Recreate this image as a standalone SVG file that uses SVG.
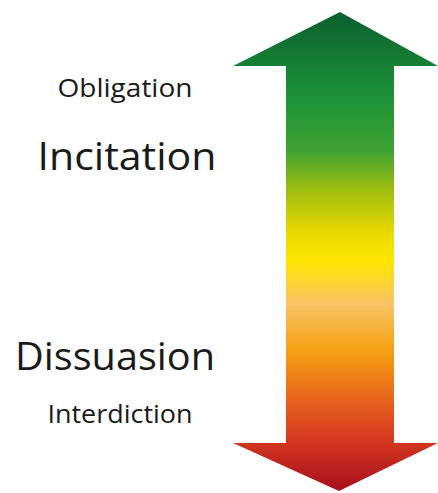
<svg xmlns="http://www.w3.org/2000/svg" width="438" height="493" viewBox="0 0 438 493">
<style>
.lbl{font-family:"Open Sans","Liberation Sans",sans-serif;fill:#1a1a1a;text-anchor:middle}
.small{font-size:25px}
.big{font-size:38px}
</style>
<defs>
<linearGradient id="g" gradientUnits="userSpaceOnUse" x1="0" y1="12" x2="0" y2="490">
<stop offset="0" stop-color="#0b5f2e"/>
<stop offset="0.18" stop-color="#1e9438"/>
<stop offset="0.29" stop-color="#3ea232"/>
<stop offset="0.37" stop-color="#9cbc10"/>
<stop offset="0.46" stop-color="#e8d800"/>
<stop offset="0.52" stop-color="#ffe600"/>
<stop offset="0.61" stop-color="#f8c466"/>
<stop offset="0.71" stop-color="#f4a010"/>
<stop offset="0.81" stop-color="#e8641c"/>
<stop offset="0.89" stop-color="#d63a20"/>
<stop offset="1" stop-color="#a8101c"/>
</linearGradient>
</defs>
<rect width="438" height="493" fill="#ffffff"/>
<g id="arrow">
<path d="M340 12 L438 66 L394 66 L394 443 L438 443 L339 491 L233 443 L286 443 L286 66 L233 66 Z" fill="url(#g)"/>
</g>
<g id="obligation"><text class="lbl small" x="125" y="97" textLength="135" lengthAdjust="spacingAndGlyphs">Obligation</text></g>
<g id="incitation"><text class="lbl big" x="127" y="170" textLength="179" lengthAdjust="spacingAndGlyphs">Incitation</text></g>
<g id="dissuasion"><text class="lbl big" x="115" y="370" textLength="200" lengthAdjust="spacingAndGlyphs">Dissuasion</text></g>
<g id="interdiction"><text class="lbl small" x="120" y="423" textLength="145" lengthAdjust="spacingAndGlyphs">Interdiction</text></g>
<g id="connectors"></g>
</svg>
